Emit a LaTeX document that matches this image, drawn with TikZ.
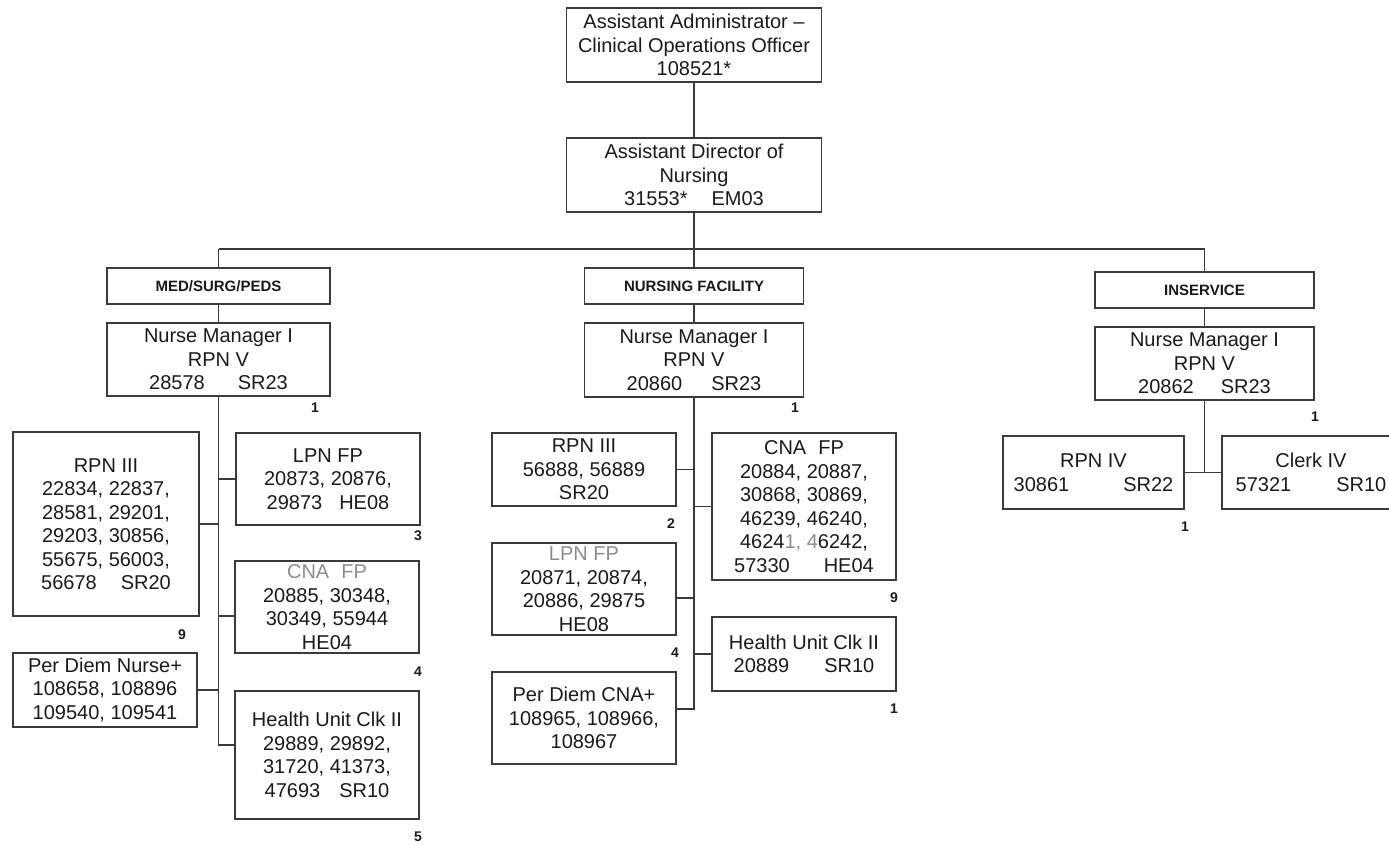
\documentclass[tikz,border=0pt]{standalone}
\usepackage{fontspec}
\setmainfont{Liberation Sans}
\definecolor{linec}{HTML}{3A3A3A}
\definecolor{txt}{HTML}{1A1A1A}
\definecolor{faint}{HTML}{8C8C8C}
\begin{document}
\begin{tikzpicture}[x=1pt,y=-1pt,
  box/.style={draw=linec, line width=1.3pt, inner sep=0pt, align=center, text=txt, font=\fontsize{20}{23.5}\selectfont},
  hdr/.style={box, font=\fontsize{15}{18}\selectfont\bfseries},
  cnt/.style={font=\fontsize{14}{16}\selectfont\bfseries, text=txt, inner sep=0pt},
  link/.style={draw=linec, line width=1.3pt}]
\useasboundingbox (0,0) rectangle (1389,845);
\fill[white] (0,0) rectangle (1389,845);

% top levels
\node[box, minimum width=255pt, minimum height=74pt] (top) at (694,45) {Assistant Administrator –\\Clinical Operations Officer\\108521*};
\node[box, minimum width=255pt, minimum height=74pt] (adn) at (694,175) {Assistant Director of\\Nursing\\31553*\hspace{24pt}EM03};
\draw[link] (top) -- (adn);

% headers
\node[hdr, minimum width=223pt, minimum height=36pt] (hdrL) at (218.5,286) {MED/SURG/PEDS};
\node[hdr, minimum width=219pt, minimum height=36pt] (hdrM) at (694,286) {NURSING FACILITY};
\node[hdr, minimum width=219pt, minimum height=36pt] (hdrR) at (1204.5,290) {INSERVICE};
\coordinate (busL) at (218.5,249);
\coordinate (busR) at (1204.5,249);
\draw[link] (adn.south) -- (adn.south |- busL);
\draw[link] (busL) -- (busR);
\draw[link] (busL) -- (hdrL.north);
\draw[link] (adn.south |- busL) -- (hdrM.north);
\draw[link] (busR) -- (hdrR.north);

% nurse managers
\node[box, minimum width=223pt, minimum height=73pt] (nmL) at (218.5,359.5) {Nurse Manager I\\RPN V\\28578\hspace{33pt}SR23};
\node[box, minimum width=219pt, minimum height=74pt] (nmM) at (694,360) {Nurse Manager I\\RPN V\\20860\hspace{29pt}SR23};
\node[box, minimum width=219pt, minimum height=73pt] (nmR) at (1204.5,363.5) {Nurse Manager I\\RPN V\\20862\hspace{27pt}SR23};
\draw[link] (hdrL) -- (nmL);
\draw[link] (hdrM) -- (nmM);
\draw[link] (hdrR) -- (nmR);

% left column
\node[box, minimum width=186pt, minimum height=184pt] (rpn3L) at (106,524) {RPN III\\22834, 22837,\\28581, 29201,\\29203, 30856,\\55675, 56003,\\56678\hspace{24pt}SR20};
\node[box, minimum width=184pt, minimum height=92pt] (lpnL) at (328,479) {LPN FP\\20873, 20876,\\29873\hspace{17pt}HE08};
\node[box, minimum width=184pt, minimum height=92pt] (cnaL) at (327,607) {\textcolor{faint}{CNA\hspace{12pt}FP}\\20885, 30348,\\30349, 55944\\HE04};
\node[box, minimum width=184pt, minimum height=74pt] (pdnL) at (105,690) {Per Diem Nurse+\\108658, 108896\\109540, 109541};
\node[box, minimum width=184pt, minimum height=128pt] (hucL) at (327,755) {Health Unit Clk II\\29889, 29892,\\31720, 41373,\\47693\hspace{19pt}SR10};
\coordinate (hucLc) at ([yshift=10pt]hucL.west);
\coordinate (cnaLc) at ([yshift=-9pt]cnaL.west);
\draw[link] (nmL.south) -- (nmL.south |- hucLc) -- (hucLc);
\draw[link] (rpn3L.east) -- (rpn3L.east -| nmL.south);
\draw[link] (lpnL.west) -- (lpnL.west -| nmL.south);
\draw[link] (cnaLc) -- (cnaLc -| nmL.south);
\draw[link] (pdnL.east) -- (pdnL.east -| nmL.south);

% middle column
\node[box, minimum width=184pt, minimum height=73pt] (rpn3M) at (584,469.5) {RPN III\\56888, 56889\\SR20};
\node[box, minimum width=184pt, minimum height=147pt] (cnaM) at (804,506.5) {CNA\hspace{12pt}FP\\20884, 20887,\\30868, 30869,\\46239, 46240,\\4624\textcolor{faint}{1, 4}6242,\\57330\hspace{34pt}HE04};
\node[box, minimum width=184pt, minimum height=92pt] (lpnM) at (584,589) {\textcolor{faint}{LPN FP}\\20871, 20874,\\20886, 29875\\HE08};
\node[box, minimum width=184pt, minimum height=74pt] (hucM) at (804,654) {Health Unit Clk II\\20889\hspace{35pt}SR10};
\node[box, minimum width=184pt, minimum height=92pt] (pdcM) at (584,718) {Per Diem CNA+\\108965, 108966,\\108967};
\coordinate (pdcMc) at ([yshift=9pt]pdcM.east);
\coordinate (lpnMc) at ([yshift=-9pt]lpnM.east);
\draw[link] (nmM.south) -- (nmM.south |- pdcMc) -- (pdcMc);
\draw[link] (rpn3M.east) -- (rpn3M.east -| nmM.south);
\draw[link] (cnaM.west) -- (cnaM.west -| nmM.south);
\draw[link] (lpnMc) -- (lpnMc -| nmM.south);
\draw[link] (hucM.west) -- (hucM.west -| nmM.south);

% right column
\node[box, minimum width=181pt, minimum height=73pt] (rpn4R) at (1093.5,472.5) {RPN IV\\30861\hspace{54pt}SR22};
\node[box, minimum width=178pt, minimum height=73pt] (clkR) at (1311,472.5) {Clerk IV\\57321\hspace{45pt}SR10};
\draw[link] (nmR.south) -- (nmR.south |- rpn4R.east);
\draw[link] (rpn4R.east) -- (clkR.west);

% counts
\node[cnt] (cL1) at (315,408) {1};
\node[cnt] (cL3) at (418,536) {3};
\node[cnt] (cL9) at (182,635) {9};
\node[cnt] (cL4) at (418,672) {4};
\node[cnt] (cL5) at (418,837) {5};
\node[cnt] (cM1) at (795,408) {1};
\node[cnt] (cM2) at (671,524) {2};
\node[cnt] (cM9) at (894,598) {9};
\node[cnt] (cM4) at (675,653) {4};
\node[cnt] (cM1b) at (894,709) {1};
\node[cnt] (cR1) at (1315,417) {1};
\node[cnt] (cR1b) at (1185,527) {1};
\end{tikzpicture}
\end{document}
